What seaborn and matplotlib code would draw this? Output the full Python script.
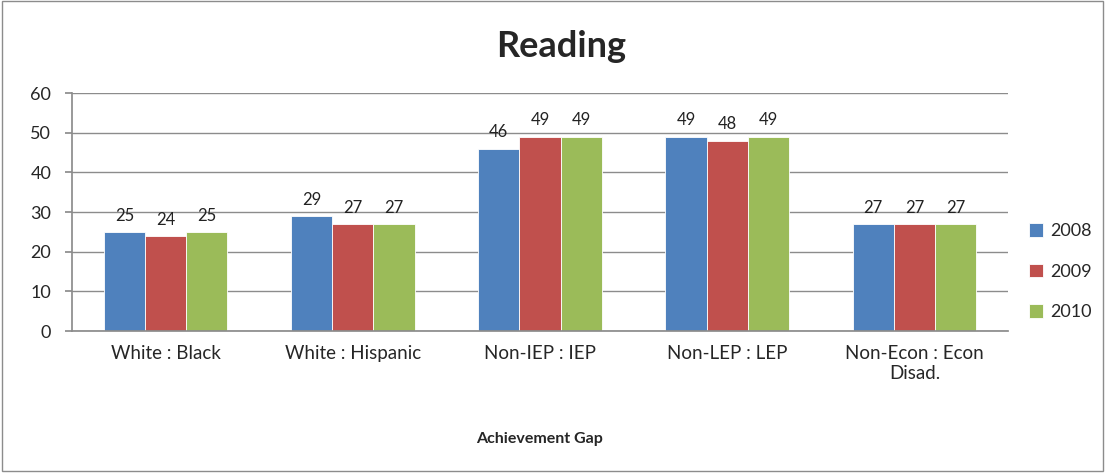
import matplotlib.pyplot as plt
import seaborn as sns
import pandas as pd

# dati del grafico
categories = ['White : Black', 'White : Hispanic', 'Non-IEP : IEP', 'Non-LEP : LEP', 'Non-Econ : Econ\nDisad.']
years = ['2008', '2009', '2010']
v2008 = [25, 29, 46, 49, 27]
v2009 = [24, 27, 49, 48, 27]
v2010 = [25, 27, 49, 49, 27]
colors = ['#4F81BD', '#C0504D', '#9BBB59']

df = pd.DataFrame({
    'gap': categories * 3,
    'year': [y for y in years for _ in categories],
    'value': v2008 + v2009 + v2010,
})

sns.set_theme(style="white")
plt.rcParams['font.family'] = ['Lato', 'DejaVu Sans']

fig = plt.figure(figsize=(11.05, 4.73), dpi=100)
ax = fig.add_axes([0.0652, 0.300, 0.847, 0.503])

sns.barplot(data=df, x='gap', y='value', hue='year', palette=colors,
            width=0.66, gap=0, saturation=1, ax=ax, edgecolor='white', linewidth=0.6)

for c in ax.containers:
    ax.bar_label(c, padding=6, fontsize=12, color='#222222')

ax.set_ylim(0, 60)
ax.set_yticks(range(0, 61, 10))
ax.yaxis.grid(True, color='#8c8c8c', linewidth=1)
ax.set_axisbelow(True)
for s in ['top', 'right']:
    ax.spines[s].set_visible(False)
ax.spines['left'].set_color('#8c8c8c')
ax.spines['bottom'].set_color('#8c8c8c')
ax.tick_params(axis='y', labelsize=13, length=5, color='#8c8c8c', left=True, pad=10)
ax.tick_params(axis='x', labelsize=13.5, length=0, pad=10)
ax.set_ylabel('')
ax.set_xlabel('Achievement Gap', fontsize=11.5, fontweight='bold', labelpad=36)
fig.text(0.508, 0.902, 'Reading', ha='center', va='center', fontsize=26, fontweight='bold')

ax.legend(loc='center left', bbox_to_anchor=(1.005, 0.25), frameon=False,
          fontsize=13, handlelength=0.8, handleheight=0.8, labelspacing=1.35, handletextpad=0.4)

# bordo esterno
fig.patches.append(plt.Rectangle((0.002, 0.004), 0.996, 0.994, transform=fig.transFigure,
                                 fill=False, edgecolor='#8c8c8c', linewidth=1))

plt.savefig('out.png', dpi=100)
